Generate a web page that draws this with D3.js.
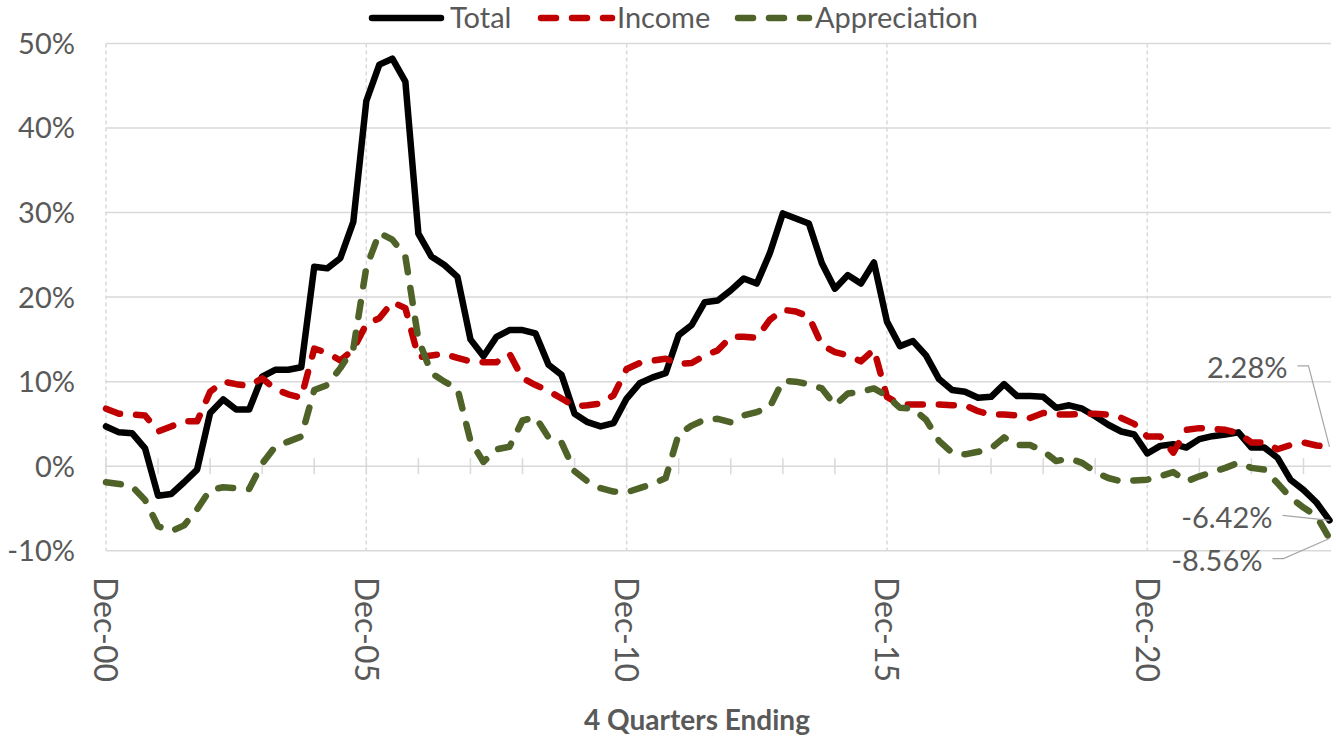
<!DOCTYPE html>
<html>
<head>
<meta charset="utf-8">
<script src="https://cdn.jsdelivr.net/npm/d3@7"></script>
<style>
  body { margin: 0; background: #fff; }
  svg text { font-family: Lato, "Liberation Sans", sans-serif; fill: #595959; }
</style>
</head>
<body>
<svg id="chart" width="1336" height="738"></svg>
<script>
// Quarter categories, Dec-00 .. Jun-24
const quarters = d3.timeMonth.range(new Date(2000, 11, 1), new Date(2024, 6, 1), 3)
  .map(d3.timeFormat("%b-%y"));

const xTickLabels = ["Dec-00", "Dec-05", "Dec-10", "Dec-15", "Dec-20"];
const yTicks = [-10, 0, 10, 20, 30, 40, 50];

// Rolling 4-quarter returns, percent
const total = [
  4.7, 4.0, 3.9, 2.1, -3.5, -3.3, -1.9, -0.4, 6.3, 7.9,
  6.7, 6.7, 10.6, 11.4, 11.4, 11.7, 23.6, 23.4, 24.6, 28.9,
  43.2, 47.5, 48.2, 45.5, 27.5, 24.8, 23.8, 22.4, 15.0, 13.0,
  15.3, 16.1, 16.1, 15.7, 12.0, 10.8, 6.2, 5.2, 4.7, 5.1,
  8.0, 9.8, 10.5, 11.0, 15.5, 16.7, 19.4, 19.6, 20.8, 22.2,
  21.6, 25.2, 29.9, 29.3, 28.7, 24.0, 21.0, 22.6, 21.6, 24.1,
  17.1, 14.2, 14.8, 13.1, 10.3, 9.0, 8.8, 8.1, 8.2, 9.7,
  8.3, 8.3, 8.2, 6.9, 7.2, 6.8, 5.9, 4.9, 4.1, 3.75,
  1.5, 2.4, 2.6, 2.2, 3.2, 3.55, 3.75, 4.0, 2.2, 2.2,
  1.0, -1.6, -2.8, -4.3, -6.42
];
const income = [
  6.8, 6.2, 6.1, 6.0, 4.1, 4.7, 5.3, 5.3, 8.8, 10.0,
  9.7, 9.5, 10.4, 9.1, 8.5, 8.1, 13.9, 13.4, 12.5, 13.8,
  16.8, 17.5, 19.4, 18.7, 12.9, 13.1, 13.3, 12.8, 12.4, 12.3,
  12.3, 13.3, 10.4, 9.6, 8.9, 8.0, 7.1, 7.2, 7.4, 8.4,
  11.5, 12.2, 12.5, 12.7, 12.1, 12.2, 13.1, 13.7, 15.3, 15.3,
  15.2, 17.3, 18.5, 18.3, 17.7, 14.3, 13.5, 13.1, 12.4, 13.8,
  8.2, 7.3, 7.3, 7.3, 7.3, 7.2, 7.2, 6.5, 6.1, 6.1,
  6.0, 5.7, 6.3, 6.1, 6.1, 6.2, 6.2, 6.1, 5.7, 5.0,
  3.5, 3.5, 1.6, 4.3, 4.5, 4.4, 4.3, 3.9, 2.8, 2.8,
  2.0, 2.5, 2.8, 2.45, 2.28
];
const appreciation = [
  -1.9, -2.1, -2.4, -4.0, -7.1, -7.7, -7.0, -5.1, -2.8, -2.5,
  -2.6, -2.7, 0.3, 2.3, 2.9, 3.5, 9.0, 9.6, 11.6, 13.9,
  23.5, 27.6, 26.8, 24.8, 15.0, 11.0, 10.0, 9.2, 3.0, 0.5,
  2.0, 2.3, 5.4, 5.8, 3.4, 2.8, -0.6, -1.8, -2.6, -3.0,
  -3.1, -2.6, -2.1, -1.4, 3.8, 4.8, 5.5, 5.6, 5.2, 6.0,
  6.4, 7.0, 10.1, 10.0, 9.7, 9.2, 7.2, 8.6, 8.8, 9.2,
  8.3, 6.9, 6.8, 5.5, 3.0, 1.6, 1.4, 1.7, 2.1, 3.4,
  2.5, 2.5, 1.8, 0.6, 0.9, 0.4, -0.7, -1.4, -1.8, -1.7,
  -1.6, -1.2, -0.7, -1.8, -1.2, -0.7, -0.2, 0.4, -0.2, -0.4,
  -2.0, -3.7, -4.9, -5.9, -8.56
];

const series = [
  { name: "Total", values: total, color: "#000000", dash: null },
  { name: "Income", values: income, color: "#C00000", dash: "15,16" },
  { name: "Appreciation", values: appreciation, color: "#4F6228", dash: "15,16" }
];

const svg = d3.select("#chart");

const x = d3.scalePoint().domain(quarters).range([106, 1329.5]);
const y = d3.scaleLinear().domain([-10, 50]).range([550.7, 43.5]);
const right = 1331;

// Horizontal gridlines
svg.append("g")
  .selectAll("line")
  .data(yTicks)
  .join("line")
  .attr("x1", 106).attr("x2", right)
  .attr("y1", d => y(d)).attr("y2", d => y(d))
  .attr("stroke", "#d9d9d9")
  .attr("stroke-width", 1.5);

// Vertical dashed gridlines at every 5th December
svg.append("g")
  .selectAll("line")
  .data(xTickLabels)
  .join("line")
  .attr("x1", d => x(d)).attr("x2", d => x(d))
  .attr("y1", y(50)).attr("y2", y(-10))
  .attr("stroke", "#d9d9d9")
  .attr("stroke-width", 1.5)
  .attr("stroke-dasharray", "4,3");

// Yearly tick marks crossing the 0% axis
svg.append("g")
  .selectAll("line")
  .data(quarters.filter(q => q.startsWith("Dec")))
  .join("line")
  .attr("x1", d => x(d)).attr("x2", d => x(d))
  .attr("y1", y(0) - 8).attr("y2", y(0) + 8)
  .attr("stroke", "#d9d9d9")
  .attr("stroke-width", 1.5);

// Y tick labels
svg.append("g")
  .selectAll("text")
  .data(yTicks)
  .join("text")
  .attr("x", 75)
  .attr("y", d => y(d))
  .attr("dy", "0.36em")
  .attr("text-anchor", "end")
  .style("font-size", "29px")
  .text(d => d + "%");

// X tick labels, rotated
svg.append("g")
  .selectAll("text")
  .data(xTickLabels)
  .join("text")
  .attr("transform", d => `translate(${x(d)},577) rotate(90)`)
  .attr("dy", "0.36em")
  .style("font-size", "32px")
  .text(d => d);

// Axis title
svg.append("text")
  .attr("x", 697)
  .attr("y", 730)
  .attr("text-anchor", "middle")
  .style("font-size", "28px")
  .style("font-weight", "bold")
  .text("4 Quarters Ending");

// Lines
const line = d3.line()
  .x((d, i) => x(quarters[i]))
  .y(d => y(d));

svg.append("g")
  .selectAll("path")
  .data(series)
  .join("path")
  .attr("fill", "none")
  .attr("stroke", d => d.color)
  .attr("stroke-width", 6.5)
  .attr("stroke-linejoin", "round")
  .attr("stroke-linecap", "round")
  .attr("stroke-dasharray", d => d.dash)
  .attr("d", d => line(d.values));

// Legend
const legendPos = [
  { x1: 372, x2: 441, tx: 450 },
  { x1: 541, x2: 612, tx: 617 },
  { x1: 738, x2: 809, tx: 815 }
];
const legend = svg.append("g")
  .selectAll("g")
  .data(series)
  .join("g");

legend.append("line")
  .attr("x1", (d, i) => legendPos[i].x1)
  .attr("x2", (d, i) => legendPos[i].x2)
  .attr("y1", 18).attr("y2", 18)
  .attr("stroke", d => d.color)
  .attr("stroke-width", 6.5)
  .attr("stroke-linecap", "round")
  .attr("stroke-dasharray", d => d.dash);

legend.append("text")
  .attr("x", (d, i) => legendPos[i].tx)
  .attr("y", 18)
  .attr("dy", "0.36em")
  .style("font-size", "29px")
  .text(d => d.name);

// End-point data labels with leader lines
const last = quarters.length - 1;
const endLabels = [
  { values: income, dx: -42, dy: -79, bend: -21 },
  { values: total, dx: -57, dy: -3, bend: null },
  { values: appreciation, dx: -67, dy: 22, bend: -46 }
];

endLabels.forEach(l => {
  const v = l.values[last];
  const px = x(quarters[last]);
  const py = y(v);
  const lx = px + l.dx;
  const ly = py + l.dy;
  const pts = l.bend === null
    ? [[lx + 10, ly - 2], [px, py]]
    : [[lx + 10, ly - 2], [px + l.bend, ly - 2], [px, py]];
  svg.append("path")
    .attr("d", d3.line()(pts))
    .attr("fill", "none")
    .attr("stroke", "#a6a6a6")
    .attr("stroke-width", 1.2);
  svg.append("text")
    .attr("x", lx)
    .attr("y", ly)
    .attr("dy", "0.36em")
    .attr("text-anchor", "end")
    .style("font-size", "29px")
    .text(v.toFixed(2) + "%");
});
</script>
</body>
</html>
